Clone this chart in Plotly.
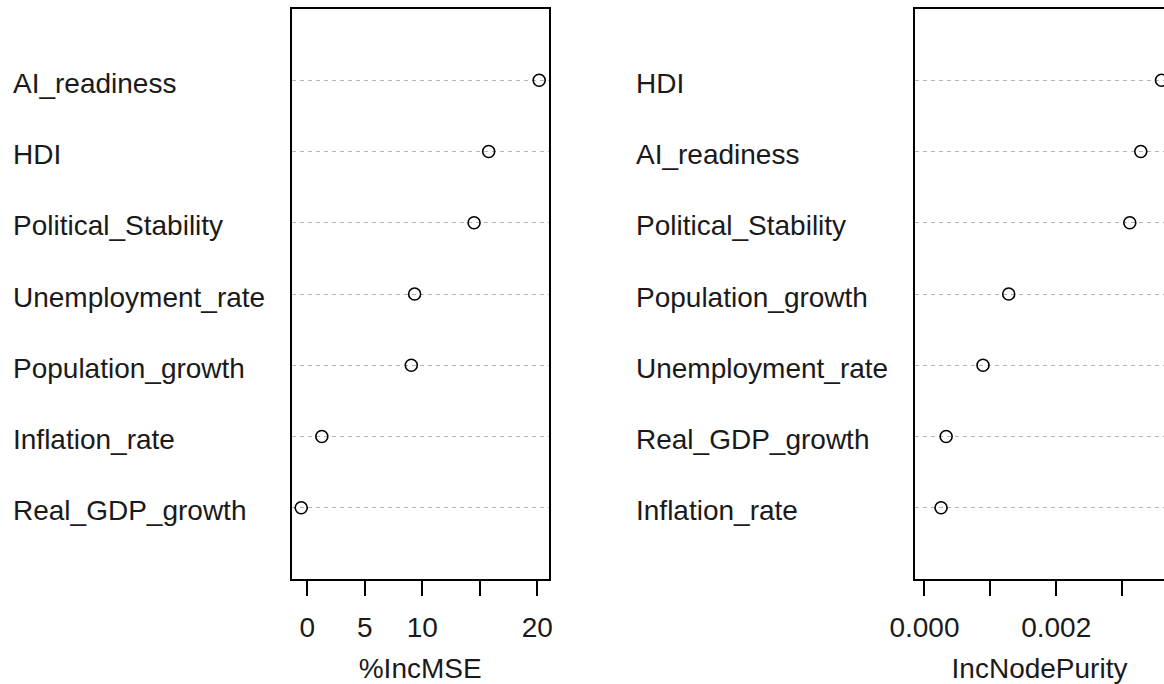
import plotly.graph_objects as go

# Variable importance from a random forest regression (two measures)
mse_vars = ["AI_readiness", "HDI", "Political_Stability", "Unemployment_rate",
            "Population_growth", "Inflation_rate", "Real_GDP_growth"]
mse_vals = [20.17, 15.78, 14.51, 9.34, 9.05, 1.27, -0.52]

purity_vars = ["HDI", "AI_readiness", "Political_Stability", "Population_growth",
               "Unemployment_rate", "Real_GDP_growth", "Inflation_rate"]
purity_vals = [0.00360, 0.003285, 0.003118, 0.001279, 0.000889, 0.000329, 0.000252]

mse_ticks = [0, 5, 10, 15, 20]
mse_ticktext = ["0", "5", "10", "", "20"]
purity_ticks = [0.0, 0.001, 0.002, 0.003]
purity_ticktext = ["0.000", "", "0.002", ""]

W, H = 1164, 684
FONT = "Liberation Sans, Arial, sans-serif"
FS = 28
TXT = "#1a1a1a"

n = len(mse_vars)
rows = list(range(n, 0, -1))  # top row is n

fig = go.Figure()

marker = dict(symbol="circle-open", size=12, color="black", line=dict(width=1.6, color="black"))
fig.add_trace(go.Scatter(x=mse_vals, y=rows, mode="markers", marker=marker,
                         xaxis="x", yaxis="y", showlegend=False))
fig.add_trace(go.Scatter(x=purity_vals, y=rows, mode="markers", marker=marker,
                         xaxis="x2", yaxis="y2", showlegend=False))

# dotchart-style x limits: data range padded by 4%
def padded(lo, hi, frac=0.04):
    d = (hi - lo) * frac
    return [lo - d, hi + d]

x1_range = padded(min(mse_vals), max(mse_vals))
x2_full = padded(0.0, max(purity_vals))

# plot boxes in pixels
L1, R1 = 291.7, 548.7
L2 = 915.0
TOP, BOT = 9.0, 579.0

# right panel runs past the page edge: clip its range at the paper's right side
px_per_unit = (x2_full[1] - x2_full[0]) / (1171.0 - L2)
x2_range = [x2_full[0], x2_full[0] + (W - L2) * px_per_unit]

ydom = [(H - BOT) / H, (H - TOP) / H]

common_x = dict(
    showline=True, linecolor="black", linewidth=1.5, mirror=True,
    ticks="outside", ticklen=15, tickwidth=1.5, tickcolor="black",
    ticklabelstandoff=8,
    showgrid=False, zeroline=False, automargin=False,
    tickfont=dict(family=FONT, size=FS, color=TXT),
    title_font=dict(family=FONT, size=FS, color=TXT),
)
common_y = dict(
    range=[0, n + 1], tickvals=rows, showticklabels=False, ticks="",
    showgrid=True, gridcolor="#b4b4b4", griddash="4px,4px", gridwidth=1.2,
    zeroline=False, automargin=False,
    showline=True, linecolor="black", linewidth=1.5,
)

fig.update_layout(
    width=W, height=H,
    margin=dict(l=0, r=0, t=0, b=0),
    paper_bgcolor="white", plot_bgcolor="white",
    xaxis=dict(domain=[L1 / W, R1 / W], range=x1_range,
               tickvals=mse_ticks, ticktext=mse_ticktext,
               title=dict(text="%IncMSE", standoff=16), anchor="y", **common_x),
    yaxis=dict(domain=ydom, anchor="x", mirror=True, **common_y),
    xaxis2=dict(domain=[L2 / W, 1.0], range=x2_range,
                tickvals=purity_ticks, ticktext=purity_ticktext,
                title=dict(text="IncNodePurity", standoff=16), anchor="y2", **common_x),
    yaxis2=dict(domain=ydom, anchor="x2", mirror=False, **common_y),
)

# variable names on the left of each panel
for names, yref, xpos in ((mse_vars, "y", 10.5), (purity_vars, "y2", 633.5)):
    for name, r in zip(names, rows):
        fig.add_annotation(text=name, x=xpos / W, xref="paper", y=r, yref=yref,
                           xanchor="left", yanchor="middle", yshift=-3, showarrow=False,
                           font=dict(family=FONT, size=FS, color=TXT))

fig.write_html("out.html")
